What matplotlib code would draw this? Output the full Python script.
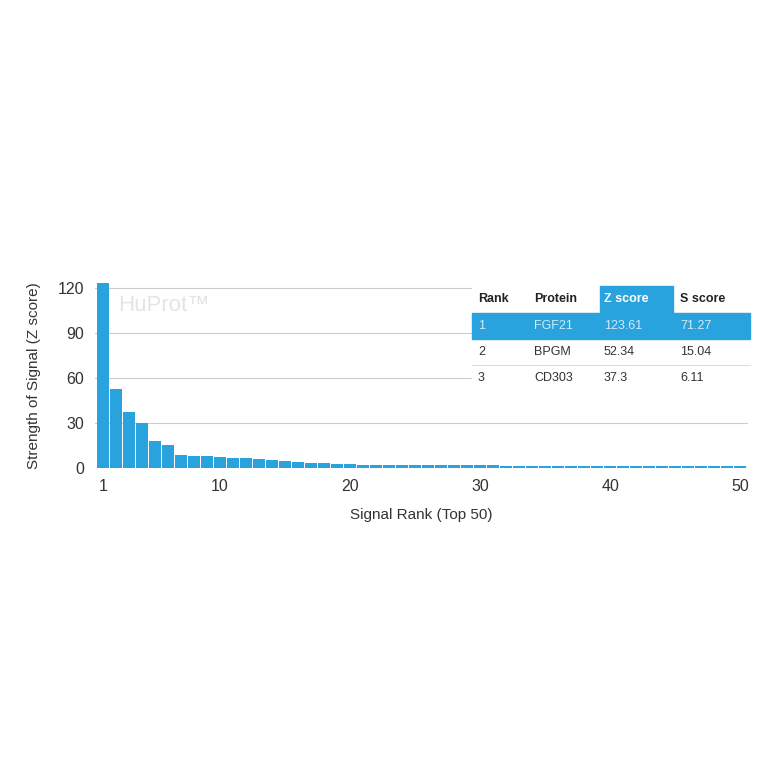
import matplotlib.pyplot as plt
from matplotlib.patches import Rectangle

plt.rcParams['font.family'] = ['Liberation Sans', 'DejaVu Sans']

# Top 50 signal strengths (Z score)
ranks = list(range(1, 51))
z_scores = [123.61, 52.34, 37.3, 30.0, 18.0, 15.5, 8.5, 8.0, 7.8, 7.2,
            6.6, 6.4, 6.0, 5.5, 4.6, 4.0, 3.5, 3.0, 2.7, 2.5,
            2.3, 2.2, 2.1, 2.0, 1.95, 1.9, 1.85, 1.8, 1.75, 1.7,
            1.7, 1.65, 1.6, 1.6, 1.55, 1.55, 1.5, 1.5, 1.45, 1.45,
            1.4, 1.4, 1.4, 1.35, 1.35, 1.3, 1.3, 1.3, 1.25, 1.25]

col_labels = ['Rank', 'Protein', 'Z score', 'S score']
table_rows = [['1', 'FGF21', '123.61', '71.27'],
              ['2', 'BPGM', '52.34', '15.04'],
              ['3', 'CD303', '37.3', '6.11']]

blue = '#29a3dd'
W = 764
fig = plt.figure(figsize=(7.64, 7.64), dpi=100)
ax = fig.add_axes([95 / W, 1 - 468 / W, 653 / W, 185 / W])
ax.bar(ranks, z_scores, width=0.92, color=blue)
ax.set_xlim(0.4, 50.6)
ax.set_ylim(0, 123)
ax.set_yticks([0, 30, 60, 90, 120])
ax.set_xticks([1, 10, 20, 30, 40, 50])
ax.yaxis.grid(True, color='#cccccc', lw=0.8)
ax.set_axisbelow(True)
for s in ax.spines.values():
    s.set_visible(False)
ax.tick_params(length=0, labelsize=11.5, colors='#333333', pad=8)
ax.set_xlabel('Signal Rank (Top 50)', fontsize=11, color='#333333', labelpad=10)
ax.set_ylabel('Strength of Signal (Z score)', fontsize=11, color='#333333', labelpad=12)
ax.text(0.036, 0.88, 'HuProt\u2122', transform=ax.transAxes, fontsize=16,
        color='#e4e4e4', va='center')

# table drawn in figure pixel coordinates
def fx(x):
    return x / W

def fy(y):
    return 1 - y / W

fig.patches.append(Rectangle((fx(472), fy(390)), fx(278), 105 / W,
                             transform=fig.transFigure, color='white', zorder=2))
fig.patches.append(Rectangle((fx(600), fy(313)), 73 / W, 27 / W,
                             transform=fig.transFigure, color=blue, zorder=3))
fig.patches.append(Rectangle((fx(472), fy(339)), 278 / W, 26 / W,
                             transform=fig.transFigure, color=blue, zorder=3))
col_x = [478, 534, 604, 680]
for cx, lab in zip(col_x, col_labels):
    fig.text(fx(cx), fy(299), lab, fontsize=9, fontweight='bold',
             color='white' if lab == 'Z score' else '#222222', va='center', zorder=4)
row_y = [326, 352, 378]
for ry, row in zip(row_y, table_rows):
    for cx, val in zip(col_x, row):
        fig.text(fx(cx), fy(ry), val, fontsize=9,
                 color='#cfeaf8' if row[0] == '1' else '#333333', va='center', zorder=4)
fig.lines.append(plt.Line2D([fx(472), fx(750)], [fy(365), fy(365)],
                            transform=fig.transFigure, color='#dddddd', lw=0.8, zorder=4))

fig.savefig('out.png', dpi=100, facecolor='white')
